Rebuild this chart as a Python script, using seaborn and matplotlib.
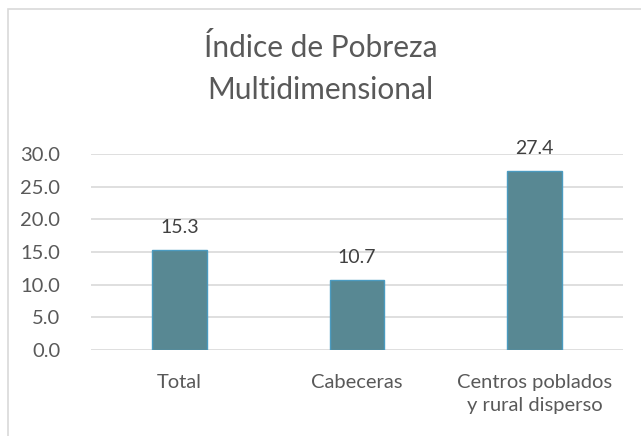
import matplotlib
matplotlib.use("Agg")
import matplotlib.pyplot as plt
import pandas as pd
import seaborn as sns
from matplotlib.patches import Rectangle

categories = ["Total", "Cabeceras", "Centros poblados\ny rural disperso"]
values = [15.3, 10.7, 27.4]
title = "Índice de Pobreza\nMultidimensional"

df = pd.DataFrame({"zona": categories, "ipm": values})

sns.set_style("white")
plt.rcParams['font.family'] = ['Lato', 'DejaVu Sans']

fig = plt.figure(figsize=(6.41, 4.36), dpi=100)
ax = fig.add_axes([91 / 641, 86 / 436, 532 / 641, 196 / 436])

sns.barplot(data=df, x="zona", y="ipm", color="#588893", width=0.31,
            edgecolor="#4b9bc0", linewidth=1, saturation=1, ax=ax, zorder=3)

ax.set_ylim(0, 30)
ax.set_yticks([0, 5, 10, 15, 20, 25, 30])
ax.set_yticklabels([f"{v:.1f}" for v in ax.get_yticks()])
ax.yaxis.grid(True, color="#d9d9d9", linewidth=1.2, zorder=0)
ax.set_axisbelow(True)
for s in ax.spines.values():
    s.set_visible(False)
ax.tick_params(axis="both", length=0, labelsize=14.5, labelcolor="#595959")
ax.tick_params(axis="y", pad=22)
ax.tick_params(axis="x", pad=17)
for lbl in ax.get_xticklabels():
    lbl.set_linespacing(1.45)
ax.set_xlabel("")
ax.set_ylabel("")

for c in ax.containers:
    ax.bar_label(c, labels=[f"{v:.1f}" for v in values], padding=10,
                 fontsize=14, color="#404040")

fig.text(0.5, 0.843, title, ha="center", va="center", fontsize=21.5,
         color="#595959", linespacing=1.6)

fig.patches.append(Rectangle((8 / 641, -0.1), 1.2, 1.1 - 9 / 436,
                             transform=fig.transFigure, fill=False,
                             edgecolor="#d9d9d9", linewidth=1.2))

plt.savefig("out.png", dpi=100)
